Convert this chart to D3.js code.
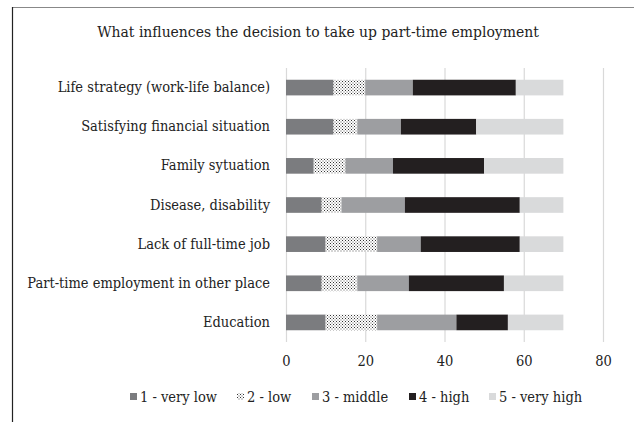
<!DOCTYPE html>
<html lang="en">
<head>
  <meta charset="UTF-8" />
  <title>What influences the decision to take up part-time employment</title>
  <script src="https://d3js.org/d3.v7.min.js"></script>
  <style>
    body { margin: 0; background: #fff; }
    svg { display: block; font-family: "DejaVu Serif Condensed", "DejaVu Serif", serif; }
  </style>
</head>
<body>
  <svg width="634" height="422"></svg>
  <script>
    const title = "What influences the decision to take up part-time employment";
    const categories = [
      "Life strategy (work-life balance)",
      "Satisfying financial situation",
      "Family sytuation ",
      "Disease, disability",
      "Lack of full-time job",
      "Part-time employment in other place",
      "Education"
    ];
    const seriesNames = ["1 - very low", "2 - low", "3 - middle", "4 - high", "5 - very high"];
    const veryLow  = [12, 12, 7, 9, 10, 9, 10];
    const low      = [8, 6, 8, 5, 13, 9, 13];
    const middle   = [12, 11, 12, 16, 11, 13, 20];
    const high     = [26, 19, 23, 29, 25, 24, 13];
    const veryHigh = [12, 22, 20, 11, 11, 15, 14];
    const xTicks = [0, 20, 40, 60, 80];

    const fills = ["#7b7c7f", "url(#dots)", "#9d9ea1", "#231f20", "#d9dadb"];
    const fontFam = "DejaVu Serif Condensed, DejaVu Serif, serif";
    const textCol = "#222";

    const svg = d3.select("svg");

    // dotted pattern for "2 - low"
    const pat = svg.append("defs").append("pattern")
      .attr("id", "dots").attr("width", 3).attr("height", 3)
      .attr("patternUnits", "userSpaceOnUse");
    pat.append("rect").attr("width", 3).attr("height", 3).attr("fill", "#fff");
    pat.append("rect").attr("width", 1).attr("height", 1).attr("fill", "#333");
    pat.append("rect").attr("x", 1.5).attr("y", 1.5).attr("width", 1).attr("height", 1).attr("fill", "#555");

    // frame (cropped, only top and left visible)
    svg.append("line").attr("x1", 12).attr("x2", 634).attr("y1", 7.5).attr("y2", 7.5)
      .attr("stroke", "#888").attr("stroke-width", 1);
    svg.append("line").attr("x1", 12.5).attr("x2", 12.5).attr("y1", 7).attr("y2", 422)
      .attr("stroke", "#222").attr("stroke-width", 1.2);

    svg.append("text")
      .attr("x", 318).attr("y", 37)
      .attr("text-anchor", "middle")
      .attr("font-size", 15.5).attr("fill", textCol)
      .text(title);

    const x = d3.scaleLinear().domain([0, 80]).range([286, 603]);
    const y = d3.scaleBand().domain(categories).range([68, 342])
      .paddingInner(0.6).paddingOuter(0.3);

    // gridlines
    svg.append("g").selectAll("line")
      .data(xTicks)
      .join("line")
      .attr("x1", d => x(d) + 0.5).attr("x2", d => x(d) + 0.5)
      .attr("y1", 68).attr("y2", 342)
      .attr("stroke", "#d9d9d9").attr("stroke-width", 1.2);

    const rows = categories.map((c, i) => ({
      cat: c, v0: veryLow[i], v1: low[i], v2: middle[i], v3: high[i], v4: veryHigh[i]
    }));
    const stack = d3.stack().keys(["v0", "v1", "v2", "v3", "v4"])(rows);

    svg.append("g").selectAll("g")
      .data(stack)
      .join("g")
      .attr("fill", (d, i) => fills[i])
      .selectAll("rect")
      .data(d => d)
      .join("rect")
      .attr("x", d => x(d[0]))
      .attr("width", d => x(d[1]) - x(d[0]))
      .attr("y", d => y(d.data.cat))
      .attr("height", y.bandwidth());

    // category labels
    const yAxis = svg.append("g")
      .attr("transform", "translate(270,0)")
      .call(d3.axisLeft(y).tickSize(0).tickPadding(0));
    yAxis.select(".domain").remove();
    yAxis.selectAll("text").attr("font-size", 14.5).attr("font-family", fontFam).attr("fill", textCol);

    // value axis
    const xAxis = svg.append("g")
      .attr("transform", "translate(0,355)")
      .call(d3.axisBottom(x).tickValues(xTicks).tickSize(0).tickPadding(0));
    xAxis.select(".domain").remove();
    xAxis.selectAll("text").attr("font-size", 14.5).attr("dy", "0.75em")
      .attr("font-family", fontFam).attr("fill", textCol);

    // legend
    const legendX = [130, 237, 312, 409, 489];
    const lg = svg.append("g").selectAll("g")
      .data(seriesNames)
      .join("g")
      .attr("transform", (d, i) => `translate(${legendX[i]},397)`);
    lg.append("rect")
      .attr("y", -4).attr("width", 7).attr("height", 7)
      .attr("fill", (d, i) => fills[i]);
    lg.append("text")
      .attr("x", 10).attr("dy", "0.35em")
      .attr("font-size", 14.5).attr("fill", textCol)
      .text(d => d);
  </script>
</body>
</html>
